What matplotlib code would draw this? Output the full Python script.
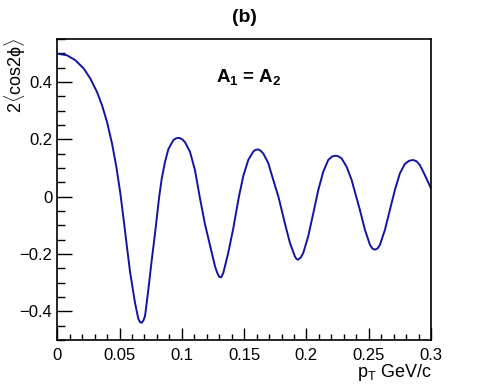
import numpy as np
from matplotlib import pyplot as plt
from matplotlib.ticker import MultipleLocator

plt.rcParams['font.family'] = ['Liberation Sans', 'DejaVu Sans']
plt.rcParams['mathtext.fontset'] = 'custom'
plt.rcParams['mathtext.rm'] = 'Liberation Sans'
plt.rcParams['mathtext.it'] = 'Liberation Sans'
plt.rcParams['mathtext.bf'] = 'Liberation Sans:bold'

# values (pT in GeV/c, 2<cos2phi>)
pt = [0.0, 0.0078, 0.0145, 0.0212, 0.0265, 0.0319, 0.0359, 0.0399, 0.0439, 0.0474,
      0.0506, 0.0533, 0.0559, 0.0584, 0.0624, 0.0650, 0.0663, 0.0677, 0.0690, 0.0704,
      0.0730, 0.0757, 0.0784, 0.0818, 0.0838, 0.0864, 0.0891, 0.0931, 0.0955, 0.0979,
      0.1003, 0.1025, 0.1065, 0.1105, 0.1143, 0.1185, 0.1226, 0.1266, 0.1284, 0.1300,
      0.1316, 0.1332, 0.1372, 0.1413, 0.1458, 0.1493, 0.1533, 0.1573, 0.1590, 0.1608,
      0.1630, 0.1653, 0.1693, 0.1734, 0.1775, 0.1827, 0.1868, 0.1908, 0.1920, 0.1932,
      0.1953, 0.1974, 0.2014, 0.2055, 0.2095, 0.2135, 0.2175, 0.2205, 0.2237, 0.2260,
      0.2283, 0.2323, 0.2363, 0.2392, 0.2429, 0.2470, 0.2510, 0.2530, 0.2550, 0.2570,
      0.2590, 0.2630, 0.2670, 0.2710, 0.2750, 0.2790, 0.2823, 0.2857, 0.2885, 0.2911,
      0.2951, 0.3000]
v2 = [0.499, 0.493, 0.476, 0.447, 0.412, 0.365, 0.319, 0.261, 0.186, 0.104,
      0.012, -0.081, -0.175, -0.262, -0.371, -0.425, -0.437, -0.440, -0.433, -0.417,
      -0.328, -0.225, -0.130, 0.0, 0.062, 0.120, 0.165, 0.197, 0.204, 0.205,
      0.200, 0.190, 0.157, 0.093, 0.0, -0.095, -0.170, -0.243, -0.266, -0.280,
      -0.281, -0.267, -0.197, -0.110, 0.0, 0.072, 0.128, 0.157, 0.163, 0.165,
      0.161, 0.151, 0.118, 0.058, 0.0, -0.093, -0.162, -0.209, -0.217, -0.220,
      -0.213, -0.197, -0.139, -0.058, 0.023, 0.087, 0.128, 0.140, 0.143, 0.140,
      0.133, 0.104, 0.058, 0.012, -0.046, -0.116, -0.168, -0.181, -0.185, -0.181,
      -0.168, -0.116, -0.046, 0.023, 0.081, 0.114, 0.125, 0.128, 0.123, 0.110,
      0.075, 0.029]

fig = plt.figure(figsize=(4.79, 3.92), dpi=100)
ax = fig.add_axes([57.3/479, 1-340/392, (431-57.3)/479, (340-39)/392])
ax.plot(pt, v2, color='#1414a0', lw=1.4, solid_joinstyle='round')
ax.set_xlim(0, 0.3)
ax.set_ylim(-0.5, 0.55)
ax.xaxis.set_minor_locator(MultipleLocator(0.01))
ax.yaxis.set_minor_locator(MultipleLocator(0.05))
ax.set_xticks([0, 0.05, 0.1, 0.15, 0.2, 0.25, 0.3])
ax.set_xticklabels(['0', '0.05', '0.1', '0.15', '0.2', '0.25', '0.3'])
ax.set_yticks([-0.4, -0.2, 0, 0.2, 0.4])
ax.set_yticklabels(['\u22120.4', '\u22120.2', '0', '0.2', '0.4'])
ax.tick_params(which='both', direction='in', labelsize=12, top=False, right=False, width=1)
ax.tick_params(axis='x', which='major', length=9, pad=6)
ax.tick_params(axis='x', which='minor', length=4.5)
ax.tick_params(axis='y', which='major', length=11)
ax.tick_params(axis='y', which='minor', length=6)
for s in ax.spines.values():
    s.set_linewidth(1.2)

fig.text(244/479, 1-18/392, '(b)', ha='center', va='center', fontsize=14, fontweight='bold')
ax.text(0.513, 0.875, r'$\mathbf{A_1}$ = $\mathbf{A_2}$', transform=ax.transAxes,
        ha='center', va='center', fontsize=13.5, fontweight='bold')
fig.text(15/479, 1-38/392, r'2$\langle$cos2$\phi\rangle$', rotation=90, ha='center', va='top', fontsize=13)
fig.text(432/479, 1-377/392, r'p$_\mathrm{T}$ GeV/c', ha='right', va='baseline', fontsize=13)

plt.savefig('out.png')
